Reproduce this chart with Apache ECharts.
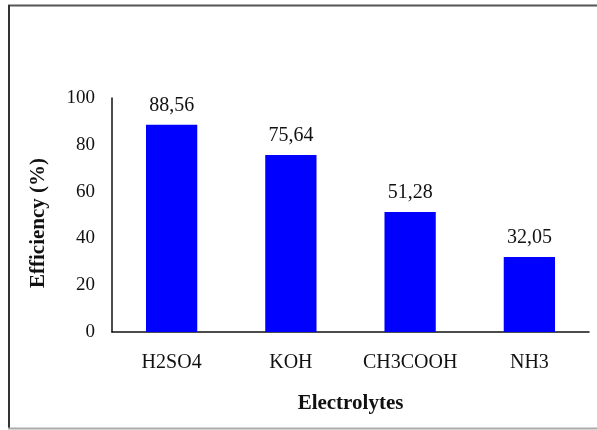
<!DOCTYPE html>
<html>
<head>
<meta charset="utf-8">
<script src="https://cdn.jsdelivr.net/npm/echarts@6/dist/echarts.min.js"></script>
<style>
  html, body { margin: 0; padding: 0; background: #fff; }
  #chart { width: 597px; height: 430px; }
</style>
</head>
<body>
<div id="chart"></div>
<script>
// values
const electrolytes = ['H2SO4', 'KOH', 'CH3COOH', 'NH3']
const efficiency = [88.56, 75.64, 51.28, 32.05]

const serif = '"Liberation Serif", "Times New Roman", serif'

const chart = echarts.init(document.getElementById('chart'))

const option = {
  animation: false,
  backgroundColor: '#fff',
  // frame round the picture
  graphic: [
    { type: 'line', shape: { x1: 8, y1: 5.5, x2: 597, y2: 5.5 }, style: { stroke: '#555', lineWidth: 2 } },
    { type: 'line', shape: { x1: 9, y1: 5, x2: 9, y2: 429 }, style: { stroke: '#333', lineWidth: 2 } },
    { type: 'line', shape: { x1: 8, y1: 428.5, x2: 597, y2: 428.5 }, style: { stroke: '#aaa', lineWidth: 2 } }
  ],
  grid: { left: 112, right: 8, top: 98, bottom: 98, containLabel: false },
  xAxis: {
    type: 'category',
    data: electrolytes,
    name: 'Electrolytes',
    nameLocation: 'middle',
    nameGap: 61,
    nameTextStyle: { fontFamily: serif, fontSize: 21, fontWeight: 'bold', color: '#111' },
    axisLine: { lineStyle: { color: '#111', width: 1.5 } },
    axisTick: { show: false },
    axisLabel: { interval: 0, fontFamily: serif, fontSize: 20, color: '#111', margin: 21 }
  },
  yAxis: {
    type: 'value',
    min: 0,
    max: 100,
    interval: 20,
    name: 'Efficiency (%)',
    nameLocation: 'middle',
    nameGap: 63,
    nameTextStyle: { fontFamily: serif, fontSize: 21, fontWeight: 'bold', color: '#111', padding: [0, 16, 0, 0] },
    axisLine: { show: true, lineStyle: { color: '#111', width: 1.5 } },
    axisTick: { show: false },
    splitLine: { show: false },
    axisLabel: { fontFamily: serif, fontSize: 19, color: '#111', margin: 17 }
  },
  series: [{
    type: 'bar',
    data: efficiency,
    barWidth: '43%',
    itemStyle: { color: '#0000ff' },
    label: {
      show: true,
      position: 'top',
      distance: 9,
      fontFamily: serif,
      fontSize: 20,
      color: '#111',
      formatter: p => p.value.toFixed(2).replace('.', ',')
    }
  }]
}

chart.setOption(option)
</script>
</body>
</html>
